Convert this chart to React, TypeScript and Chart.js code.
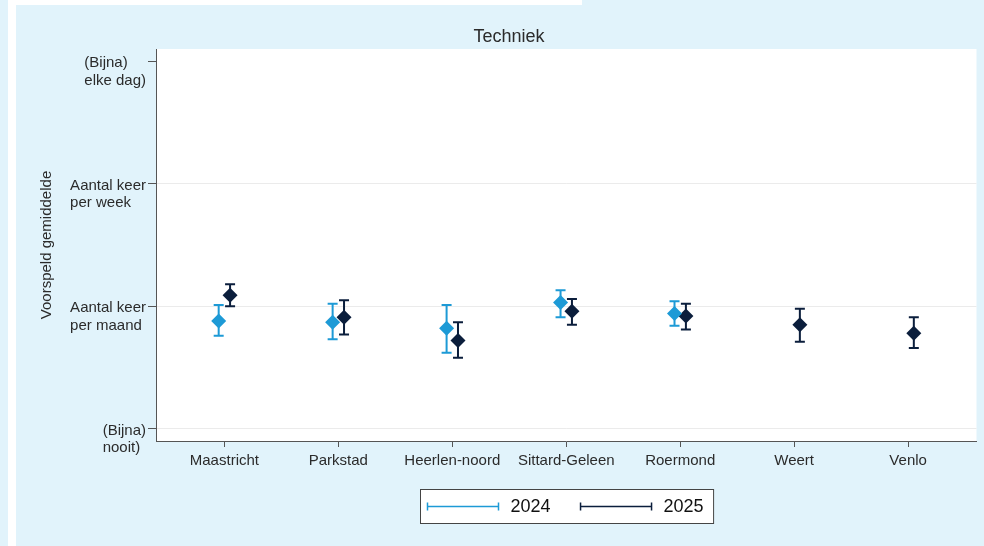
import React, { useEffect, useRef } from "react";
import { Chart, registerables } from "chart.js";

Chart.register(...registerables);

const TITLE = "Techniek";
const Y_TITLE = "Voorspeld gemiddelde";
const categories = ["Maastricht", "Parkstad", "Heerlen-noord", "Sittard-Geleen", "Roermond", "Weert", "Venlo"];
const yTickValues = [1, 2, 3, 4];
const yTickLabels = [
  ["(Bijna)", "nooit)"],
  ["Aantal keer", "per maand"],
  ["Aantal keer", "per week"],
  ["(Bijna)", "elke dag)"],
];
const seriesLabels = ["2024", "2025"];
const mean2024 = [1.88, 1.87, 1.82, 2.03, 1.94, null, null];
const low2024 = [1.76, 1.73, 1.62, 1.91, 1.84, null, null];
const high2024 = [2.01, 2.02, 2.01, 2.13, 2.04, null, null];
const mean2025 = [2.09, 1.91, 1.72, 1.96, 1.92, 1.85, 1.78];
const low2025 = [2.0, 1.77, 1.58, 1.85, 1.81, 1.71, 1.66];
const high2025 = [2.18, 2.05, 1.87, 2.06, 2.02, 1.98, 1.91];

const COLOR_2024 = "#1d9ad6";
const COLOR_2025 = "#0b1e3c";
const BG = "#e1f3fb";
const FONT = "'Liberation Sans', Arial, sans-serif";

const OFFSET = 0.05;

function toPoints(means: (number | null)[], lows: (number | null)[], highs: (number | null)[], off: number) {
  const pts: any[] = [];
  means.forEach((m, i) => {
    if (m === null) return;
    pts.push({ x: i + 1 + off, y: m, lo: lows[i], hi: highs[i] });
  });
  return pts;
}

const plotBgPlugin = {
  id: "plotBg",
  beforeDraw(chart: any) {
    const { ctx, chartArea } = chart;
    ctx.save();
    ctx.fillStyle = "#ffffff";
    ctx.fillRect(chartArea.left, chartArea.top, chartArea.right - chartArea.left, chartArea.bottom - chartArea.top);
    ctx.restore();
  },
};

const errorBarPlugin = {
  id: "errorBars",
  beforeDatasetsDraw(chart: any) {
    const { ctx } = chart;
    const xs = chart.scales.x;
    const ys = chart.scales.y;
    chart.data.datasets.forEach((ds: any) => {
      ctx.save();
      ctx.strokeStyle = ds.borderColor;
      ctx.lineWidth = 2;
      ds.data.forEach((p: any) => {
        const x = xs.getPixelForValue(p.x);
        const yl = ys.getPixelForValue(p.lo);
        const yh = ys.getPixelForValue(p.hi);
        ctx.beginPath();
        ctx.moveTo(x, yl);
        ctx.lineTo(x, yh);
        ctx.moveTo(x - 5, yl);
        ctx.lineTo(x + 5, yl);
        ctx.moveTo(x - 5, yh);
        ctx.lineTo(x + 5, yh);
        ctx.stroke();
      });
      ctx.restore();
    });
  },
};

const textPlugin = {
  id: "texts",
  afterDraw(chart: any) {
    const { ctx, chartArea } = chart;
    const ys = chart.scales.y;
    ctx.save();
    // title
    ctx.fillStyle = "#2b2b2b";
    ctx.font = `18px ${FONT}`;
    ctx.textAlign = "center";
    ctx.textBaseline = "middle";
    ctx.fillText(TITLE, 493, 37);
    // y tick labels (left aligned lines, block right aligned)
    ctx.font = `15px ${FONT}`;
    ctx.fillStyle = "#2b2b2b";
    ctx.textAlign = "left";
    yTickValues.forEach((v, i) => {
      const y = ys.getPixelForValue(v);
      const lines = yTickLabels[i];
      const w = Math.max(...lines.map((l) => ctx.measureText(l).width));
      const x0 = chartArea.left - 10 - w;
      lines.forEach((l, j) => ctx.fillText(l, x0, y + 2 + j * 17.5));
    });
    // y title
    ctx.save();
    ctx.translate(31, (chartArea.top + chartArea.bottom) / 2);
    ctx.rotate(-Math.PI / 2);
    ctx.textAlign = "center";
    ctx.fillText(Y_TITLE, 0, 0);
    ctx.restore();
    // legend
    const cx = (chartArea.left + chartArea.right) / 2;
    ctx.font = `18px ${FONT}`;
    const lineLen = 71;
    const widths = chart.data.datasets.map((d: any) => ctx.measureText(d.label).width);
    const total = 7 + (lineLen + 12) * 2 + widths[0] + widths[1] + 30 + 10;
    const bx = Math.round(cx - total / 2) + 0.5;
    const by = 489.5;
    const bh = 34;
    ctx.fillStyle = "#ffffff";
    ctx.fillRect(bx, by, total, bh);
    ctx.strokeStyle = "#444";
    ctx.lineWidth = 1;
    ctx.strokeRect(bx, by, total, bh);
    let x = bx + 7;
    const ly = by + bh / 2;
    chart.data.datasets.forEach((d: any, i: number) => {
      ctx.strokeStyle = d.borderColor;
      ctx.lineWidth = 1.5;
      ctx.beginPath();
      ctx.moveTo(x, ly);
      ctx.lineTo(x + lineLen, ly);
      ctx.moveTo(x, ly - 4);
      ctx.lineTo(x, ly + 4);
      ctx.moveTo(x + lineLen, ly - 4);
      ctx.lineTo(x + lineLen, ly + 4);
      ctx.stroke();
      ctx.fillStyle = "#111";
      ctx.textAlign = "left";
      ctx.textBaseline = "middle";
      ctx.fillText(d.label, x + lineLen + 12, ly + 1);
      x += lineLen + 12 + widths[i] + 30;
    });
    ctx.restore();
  },
};

export default function App() {
  const ref = useRef<HTMLCanvasElement | null>(null);
  useEffect(() => {
    if (!ref.current) return;
    const chart = new Chart(ref.current, {
      type: "scatter",
      data: {
        datasets: [
          {
            label: seriesLabels[0],
            data: toPoints(mean2024, low2024, high2024, -OFFSET),
            backgroundColor: COLOR_2024,
            borderColor: COLOR_2024,
            pointStyle: "rectRot",
            pointRadius: 7.5,
            pointBorderWidth: 0,
          },
          {
            label: seriesLabels[1],
            data: toPoints(mean2025, low2025, high2025, OFFSET),
            backgroundColor: COLOR_2025,
            borderColor: COLOR_2025,
            pointStyle: "rectRot",
            pointRadius: 7.5,
            pointBorderWidth: 0,
          },
        ],
      },
      options: {
        responsive: false,
        devicePixelRatio: 1,
        animation: false,
        layout: { padding: { left: 0, right: 5, top: 49, bottom: 0 } },
        plugins: { legend: { display: false }, title: { display: false }, tooltip: { enabled: false } },
        scales: {
          x: {
            type: "linear",
            min: 0.4,
            max: 7.6,
            afterBuildTicks: (s: any) => {
              s.ticks = categories.map((_, i) => ({ value: i + 1 }));
            },
            afterFit: (s: any) => {
              s.height = 105;
            },
            ticks: {
              callback: (v: any) => categories[Math.round(Number(v)) - 1] ?? "",
              font: { family: FONT, size: 15 },
              color: "#2b2b2b",
              padding: 5,
              maxRotation: 0,
              autoSkip: false,
            },
            grid: { drawOnChartArea: false, drawTicks: true, tickLength: 6, color: "#555", tickWidth: 1 },
            border: { display: true, color: "#555", width: 1 },
          },
          y: {
            type: "linear",
            min: 0.9,
            max: 4.1,
            afterBuildTicks: (s: any) => {
              s.ticks = yTickValues.map((v) => ({ value: v }));
            },
            afterFit: (s: any) => {
              s.width = 140;
            },
            ticks: { display: false },
            grid: {
              color: (c: any) => (c.tick && c.tick.value === 4 ? "rgba(0,0,0,0)" : "#ebebeb"),
              tickColor: "#555",
              tickLength: 8,
              lineWidth: 1,
            },
            border: { display: true, color: "#555", width: 1 },
          },
        },
      },
      plugins: [plotBgPlugin, errorBarPlugin, textPlugin],
    } as any);
    return () => chart.destroy();
  }, []);

  return (
    <div style={{ position: "fixed", left: 0, top: 0, width: 984, height: 546, background: BG, overflow: "hidden" }}>
      <div style={{ position: "absolute", left: 8, top: 0, width: 8, height: 546, background: "#ffffff" }} />
      <div style={{ position: "absolute", left: 16, top: 0, width: 566, height: 5, background: "#ffffff" }} />
      <canvas ref={ref} width={968} height={546} style={{ position: "absolute", left: 16, top: 0, width: 968, height: 546 }} />
    </div>
  );
}
